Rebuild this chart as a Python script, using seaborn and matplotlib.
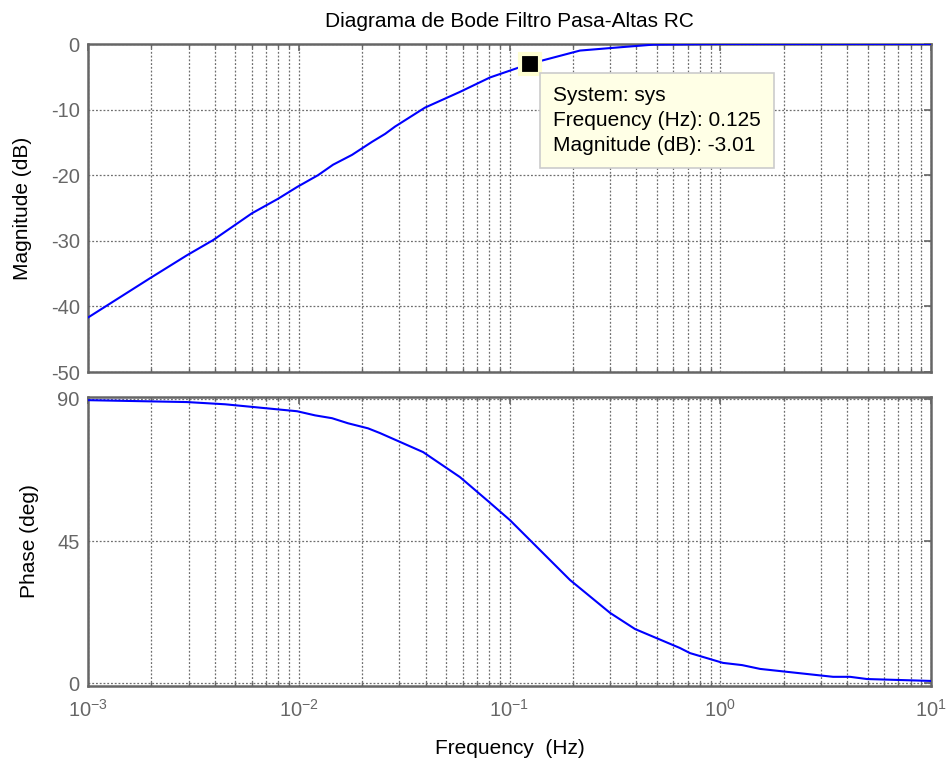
import numpy as np
import pandas as pd
import matplotlib
matplotlib.use("Agg")
import matplotlib.pyplot as plt
import seaborn as sns
from matplotlib.ticker import LogLocator, LogFormatterSciNotation, NullFormatter, FixedLocator

# ---- data ----
mag_freq = [0.001, 0.00197, 0.00295, 0.00392, 0.0060, 0.00797, 0.00982, 0.01234,
            0.01455, 0.0179, 0.0223, 0.0257, 0.0286, 0.0397, 0.0582, 0.0808,
            0.125, 0.216, 0.334, 0.48, 1.0, 10.0]
mag_db = [-41.7, -35.7, -32.2, -29.9, -25.8, -23.6, -21.8, -20.0,
          -18.4, -16.9, -14.9, -13.7, -12.6, -9.7, -7.3, -5.1,
          -3.01, -1.0, -0.5, -0.1, 0.0, 0.0]

ph_freq = [0.001, 0.00295, 0.00447, 0.00982, 0.01195, 0.01439, 0.01713, 0.02132,
           0.0243, 0.0389, 0.0582, 0.0782, 0.1005, 0.1936, 0.300, 0.394,
           0.644, 0.718, 1.03, 1.27, 1.545, 3.43, 4.13, 4.97, 10.0]
ph_deg = [89.5, 88.9, 88.2, 86.0, 84.7, 83.8, 82.2, 80.6,
          79.1, 73.1, 65.2, 57.9, 51.6, 32.7, 22.3, 17.2,
          11.2, 9.6, 6.5, 5.8, 4.6, 2.1, 2.1, 1.4, 0.8]

mag_ticks = [0, -10, -20, -30, -40, -50]
ph_ticks = [0, 45, 90]

title = "Diagrama de Bode Filtro Pasa-Altas RC"
xlabel = "Frequency  (Hz)"
ylabel_mag = "Magnitude (dB)"
ylabel_ph = "Phase (deg)"
tip_freq = 0.125
tip_mag = -3.01
tip_text = "System: sys\nFrequency (Hz): 0.125\nMagnitude (dB): -3.01"

# ---- style ----
sns.set_theme(style="white")
plt.rcParams["font.family"] = ["Liberation Sans", "DejaVu Sans"]
plt.rcParams["mathtext.fontset"] = "custom"
plt.rcParams["mathtext.rm"] = "Liberation Sans"
plt.rcParams["mathtext.it"] = "Liberation Sans"
plt.rcParams["mathtext.default"] = "regular"
plt.rcParams["axes.unicode_minus"] = False

axcol = "#666666"
gridcol = "#6e6e6e"
FS = 14.5

fig = plt.figure(figsize=(9.47, 7.68), dpi=100)
ax1 = fig.add_axes([88 / 947, 1 - 372 / 768, 843 / 947, 328 / 768])
ax2 = fig.add_axes([88 / 947, 1 - 686 / 768, 843 / 947, 289 / 768])

df_mag = pd.DataFrame({"f": mag_freq, "v": mag_db})
df_ph = pd.DataFrame({"f": ph_freq, "v": ph_deg})

sns.lineplot(data=df_mag, x="f", y="v", ax=ax1, color="#0000ff", lw=1.5,
             sort=False, estimator=None, zorder=5)
sns.lineplot(data=df_ph, x="f", y="v", ax=ax2, color="#0000ff", lw=1.5,
             sort=False, estimator=None, zorder=5)

for ax in (ax1, ax2):
    ax.set_xscale("log")
    ax.set_xlim(1e-3, 1e1)
    ax.xaxis.set_major_locator(LogLocator(base=10, numticks=10))
    ax.xaxis.set_minor_locator(LogLocator(base=10, subs=np.arange(2, 10), numticks=100))
    ax.grid(True, which="major", axis="both", color=gridcol, linestyle=(0, (1.5, 1.5)), lw=0.9)
    ax.grid(True, which="minor", axis="x", color=gridcol, linestyle=(0, (1.5, 1.5)), lw=0.9)
    for s in ax.spines.values():
        s.set_color(axcol)
        s.set_linewidth(1.8)
        s.set_visible(True)
    ax.tick_params(which="both", direction="in", top=True, right=True,
                   color=axcol, labelcolor=axcol, labelsize=FS)
    ax.tick_params(which="major", length=5, width=1.2)
    ax.tick_params(axis="y", which="major", pad=6)
    ax.tick_params(which="minor", length=3, width=1.0, bottom=True, top=True)
    ax.set_xlabel("")
    ax.set_facecolor("white")

ax1.set_ylim(-50, 0)
ax1.yaxis.set_major_locator(FixedLocator(mag_ticks))
ax1.xaxis.set_major_formatter(NullFormatter())
ax1.xaxis.set_minor_formatter(NullFormatter())
ax1.set_ylabel(ylabel_mag, fontsize=15, color="black")
ax1.yaxis.set_label_coords(-0.067, 0.5)
ax1.set_title(title, fontsize=15, color="black", pad=12)

ax2.set_ylim(-0.8, 90.5)
ax2.yaxis.set_major_locator(FixedLocator(ph_ticks))
ax2.xaxis.set_major_formatter(LogFormatterSciNotation())
ax2.xaxis.set_minor_formatter(NullFormatter())
ax2.tick_params(axis="x", which="major", pad=9)
ax2.set_ylabel(ylabel_ph, fontsize=15, color="black")
ax2.yaxis.set_label_coords(-0.058, 0.5)
ax2.set_xlabel(xlabel, fontsize=15, color="black")
ax2.xaxis.set_label_coords(0.5, -0.183)

# data tip
ax1.plot([tip_freq], [tip_mag], marker="s", markersize=14, color="black",
         markeredgecolor="#ffffd2", markeredgewidth=3, zorder=10, clip_on=False)
ax1.annotate(tip_text, xy=(tip_freq, tip_mag), xytext=(23, -22),
             textcoords="offset pixels", ha="left", va="top", fontsize=15,
             color="black", linespacing=1.42, zorder=11,
             bbox=dict(boxstyle="square,pad=0.62", fc="#ffffe6", ec="#cccccc", lw=1.2))

fig.savefig("out.png", dpi=100, facecolor="white")
